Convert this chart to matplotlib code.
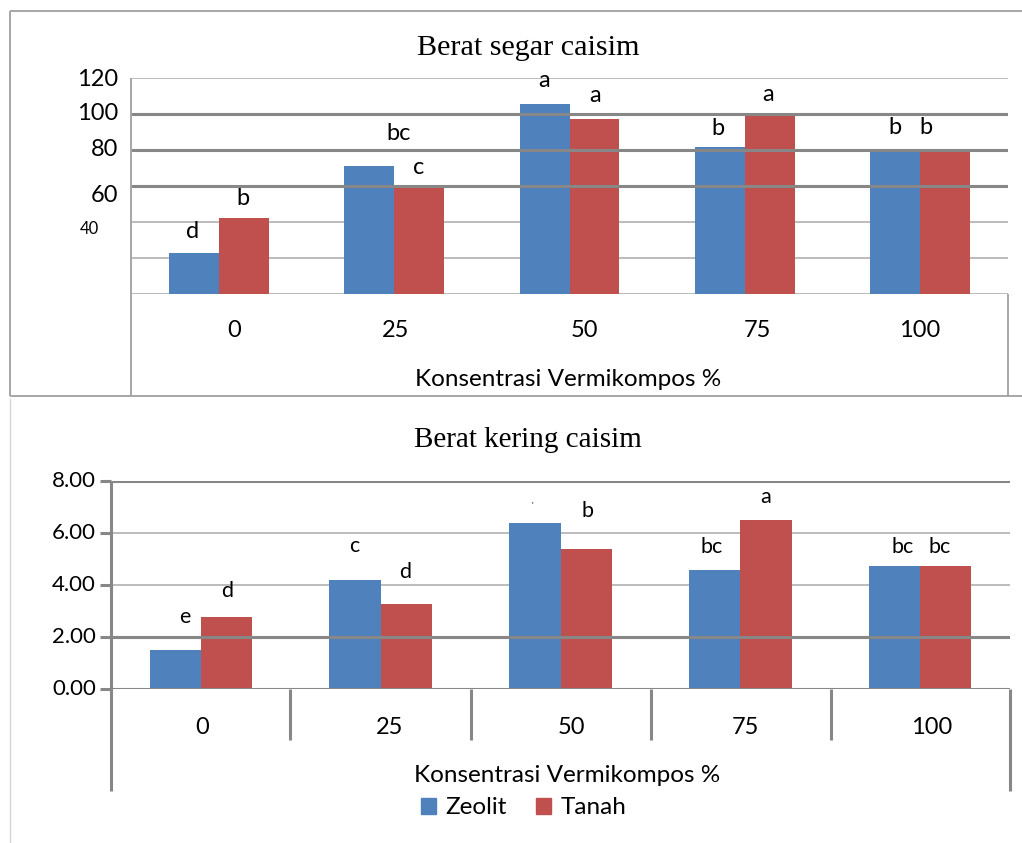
import matplotlib
matplotlib.use("Agg")
import matplotlib.pyplot as plt
from matplotlib.lines import Line2D
from matplotlib.patches import Patch
import numpy as np

plt.rcParams["font.family"] = ["Lato", "DejaVu Sans"]

categories = ["0", "25", "50", "75", "100"]

# Berat segar caisim
segar_zeolit = [22.8, 71.0, 105.5, 81.5, 79.0]
segar_tanah = [42.0, 60.0, 97.0, 100.0, 79.0]
segar_lbl_zeolit = ["d", "bc", "a", "b", "b"]
segar_lbl_tanah = ["b", "c", "a", "a", "b"]
segar_grid = [0, 20, 40, 60, 80, 100, 120]
segar_ticklabels = ["120", "100", "80", "60", "40"]

# Berat kering caisim
kering_zeolit = [1.50, 4.19, 6.38, 4.58, 4.73]
kering_tanah = [2.77, 3.27, 5.38, 6.50, 4.73]
kering_lbl_zeolit = ["e", "c", "'", "bc", "bc"]
kering_lbl_tanah = ["d", "d", "b", "a", "bc"]
kering_grid = [0, 2, 4, 6, 8]

series = ["Zeolit", "Tanah"]
BLUE = "#4F81BD"
RED = "#C0504D"
DARK = "#878787"
LIGHT = "#bcbcbc"

W, H = 1022, 843
fig = plt.figure(figsize=(W / 100, H / 100), dpi=100)


def fx(x):
    return x / W


def fy(y):
    return 1 - y / H


def fline(xs, ys, color=DARK, lw=2.0):
    fig.add_artist(Line2D([fx(x) for x in xs], [fy(y) for y in ys],
                          transform=fig.transFigure, color=color, lw=lw,
                          solid_capstyle="butt"))


def bars(ax, a, b, la, lb, offs_a, offs_b, lsize):
    x = np.arange(len(categories))
    w = 0.285
    ra = ax.bar(x - w / 2, a, w, color=BLUE, zorder=2)
    rb = ax.bar(x + w / 2, b, w, color=RED, zorder=2)
    for rects, lbls, offs in ((ra, la, offs_a), (rb, lb, offs_b)):
        for r, t, (dx, dy) in zip(rects, lbls, offs):
            ax.annotate(t, (r.get_x() + r.get_width() / 2, r.get_height()),
                        xytext=(dx, dy), textcoords="offset pixels",
                        ha="center", va="center",
                        fontsize=6 if t == "'" else lsize,
                        annotation_clip=False)
    ax.set_xlim(-0.5, len(categories) - 0.5)
    ax.set_xticks([])
    ax.set_yticks([])
    for s in ax.spines.values():
        s.set_visible(False)
    ax.patch.set_alpha(0)


# ---- top chart ----
ax1 = fig.add_axes([fx(131), fy(294), (1008 - 131) / W, (294 - 78) / H])
bars(ax1, segar_zeolit, segar_tanah, segar_lbl_zeolit, segar_lbl_tanah,
     [(-1, 21), (29, 33), (0, 24), (-2, 19), (0, 24)],
     [(-1, 20), (0, 19), (1, 24), (-2, 19), (-19, 24)], 17)
ax1.set_ylim(0, 120)
for v in segar_grid:
    if v in (60, 80, 100):
        ax1.axhline(v, color=DARK, lw=2.2, zorder=3)
    else:
        ax1.axhline(v, color=LIGHT, lw=1.4, zorder=1)

for t, y in zip(segar_ticklabels, [80, 113, 150, 195, 229]):
    small = t == "40"
    fig.text(fx(99 if small else 118), fy(y), t, ha="right", va="center",
             fontsize=12 if small else 17)
for t, x in zip(categories, [234, 396, 584, 757, 920]):
    fig.text(fx(x), fy(330), t, ha="center", va="center", fontsize=17)
fig.text(fx(568), fy(380), "Konsentrasi Vermikompos %", ha="center",
         va="center", fontsize=17.5)
fig.text(fx(528), fy(48), "Berat segar caisim", ha="center", va="center",
         fontsize=21.7, family=["Liberation Serif", "DejaVu Serif"])

# frame of the top chart
fline([10, 1022], [11, 11], color="#a6a6a6", lw=1.4)
fline([10, 10], [11, 396], color="#a6a6a6", lw=1.4)
fline([10, 1022], [396, 396], color="#a6a6a6", lw=1.4)
fline([131, 131], [78, 396], color="#a6a6a6", lw=1.4)
fline([1008, 1008], [294, 396], color="#a6a6a6", lw=1.4)
fline([10, 10], [398, 843], color="#d6d6d6", lw=1.0)

# ---- bottom chart ----
ax2 = fig.add_axes([fx(111), fy(689), (1010 - 111) / W, (689 - 481) / H])
bars(ax2, kering_zeolit, kering_tanah, kering_lbl_zeolit, kering_lbl_tanah,
     [(10, 33), (-1, 34), (-3, 18), (-3, 23), (8, 19)],
     [(1, 26), (-1, 32), (1, 38), (0, 23), (-6, 19)], 15.5)
ax2.set_ylim(0, 8)
for v in kering_grid:
    if v in (0, 2, 8):
        ax2.axhline(v, color=DARK, lw=2.2, zorder=3)
    else:
        ax2.axhline(v, color=LIGHT, lw=1.4, zorder=1)
    ypx = 689 - v / 8 * (689 - 481)
    fline([100, 111], [ypx, ypx], color=DARK, lw=2.2)
    fig.text(fx(96), fy(ypx), f"{v:.2f}", ha="right", va="center",
             fontsize=16)

fline([111, 111], [481, 791], color=DARK, lw=2.2)
for x in [290, 471, 651, 831]:
    fline([x, x], [689, 740], color=DARK, lw=2.2)
fline([1010, 1010], [689, 791], color=DARK, lw=2.2)

for t, x in zip(categories, [202, 390, 571, 745, 932]):
    fig.text(fx(x), fy(727), t, ha="center", va="center", fontsize=17)
fig.text(fx(567), fy(776), "Konsentrasi Vermikompos %", ha="center",
         va="center", fontsize=17.5)
fig.text(fx(528), fy(440), "Berat kering caisim", ha="center", va="center",
         fontsize=21, family=["Liberation Serif", "DejaVu Serif"])

handles = [Patch(color=BLUE, label=series[0]), Patch(color=RED, label=series[1])]
fig.legend(handles=handles, loc="center", bbox_to_anchor=(fx(524), fy(808)),
           ncol=2, frameon=False, fontsize=17.5, handlelength=0.6,
           handleheight=0.6, handletextpad=0.4, columnspacing=1.2,
           borderpad=0)

fig.savefig("out.png", dpi=100)
